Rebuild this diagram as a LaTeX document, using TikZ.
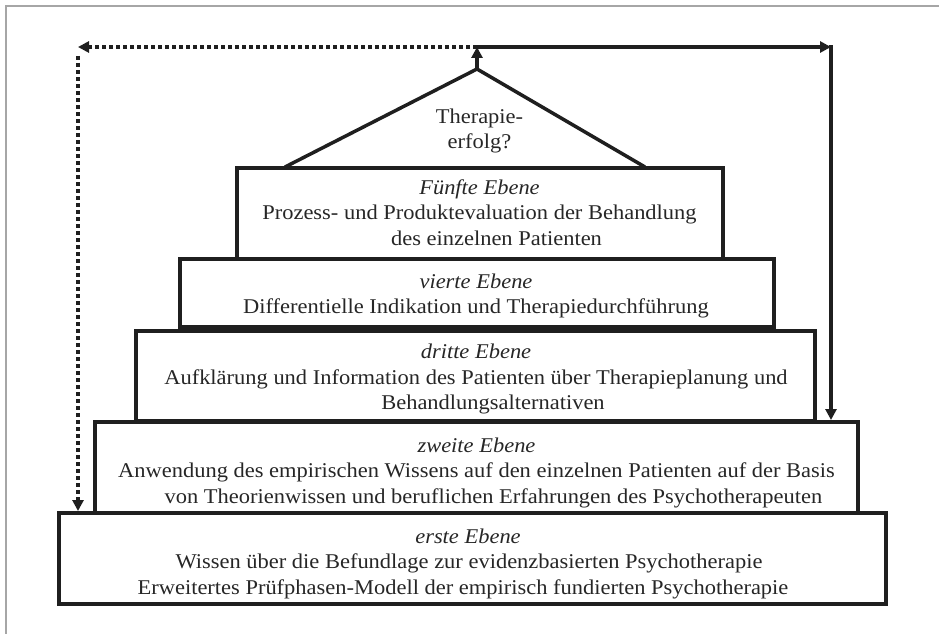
\documentclass[tikz,border=0pt]{standalone}
\usepackage{fontspec}
\setmainfont{Liberation Serif}[FakeStretch=1.07]
\usetikzlibrary{arrows.meta}
\begin{document}
\begin{tikzpicture}[x=1pt,y=-1pt,
  lvl/.style={draw=black!88, line width=3.3pt, inner sep=0pt},
  txt/.style={align=center, font=\fontsize{21}{25.5}\selectfont, inner sep=0pt, text=black!85},
  solidarrow/.style={draw=black!88, line width=3.5pt, -{Triangle[length=11pt,width=11pt]}},
  solidline/.style={draw=black!88, line width=3.5pt},
  dotarrow/.style={draw=black!88, line width=4pt, dash pattern=on 4pt off 3pt, -{Triangle[length=11pt,width=11pt]}},
]
\useasboundingbox (0,0) rectangle (939,634);
\draw[gray!70, line width=1.5pt] (6,634) -- (6,6) -- (939,6);

% level boxes
\node[lvl, minimum width=486pt, minimum height=91pt] (b5) at (480,213.5) {};
\node[lvl, minimum width=594pt, minimum height=68pt] (b4) at (477,293) {};
\node[lvl, minimum width=679pt, minimum height=90pt] (b3) at (475.5,376) {};
\node[lvl, minimum width=763pt, minimum height=91pt] (b2) at (476.5,467.5) {};
\node[lvl, minimum width=827pt, minimum height=91pt] (b1) at (472.5,558.5) {};

% texts
\node[txt] (t5) at (479.5,212.5) {\itshape Fünfte Ebene\\Prozess- und Produktevaluation der Behandlung\\\hspace*{34pt}des einzelnen Patienten};
\node[txt] (t4) at (476,296) {\itshape vierte Ebene\\Differentielle Indikation und Therapiedurchführung};
\node[txt] (t3) at (476,379) {\itshape dritte Ebene\\Aufklärung und Information des Patienten über Therapieplanung und\\\hspace*{34pt}Behandlungsalternativen};
\node[txt] (t2) at (476.5,472.5) {\itshape zweite Ebene\\Anwendung des empirischen Wissens auf den einzelnen Patienten auf der Basis\\\hspace*{34pt}von Theorienwissen und beruflichen Erfahrungen des Psychotherapeuten};
\node[txt] (t1) at (463,563.5) {\hspace*{10pt}\itshape erste Ebene\\\hspace*{12pt}Wissen über die Befundlage zur evidenzbasierten Psychotherapie\\Erweitertes Prüfphasen-Modell der empirisch fundierten Psychotherapie};

% roof
\coordinate (roofL) at (285,167);
\coordinate (apex) at (477,69);
\coordinate (roofR) at (645,167);
\draw[solidline, line join=miter] (roofL) -- (apex) -- (roofR);
\node[txt] (t0) at (479.5,131) {Therapie-\\erfolg?};

% feedback arrows
\coordinate (topmid) at (477,47);
\coordinate (topR) at (831,47);
\coordinate (topRs) at (831,45.3);
\coordinate (topL) at (78,47);
\coordinate (leftS) at (78,56);
\coordinate (b2top) at (831,420);
\coordinate (b1top) at (78,511);

\draw[solidarrow] (apex) -- (topmid);
\draw[solidarrow] (topmid) -- (topR);
\draw[solidarrow] (topRs) -- (b2top);
\draw[dotarrow] (topmid) -- (topL);
\draw[dotarrow] (leftS) -- (b1top);
\end{tikzpicture}
\end{document}
